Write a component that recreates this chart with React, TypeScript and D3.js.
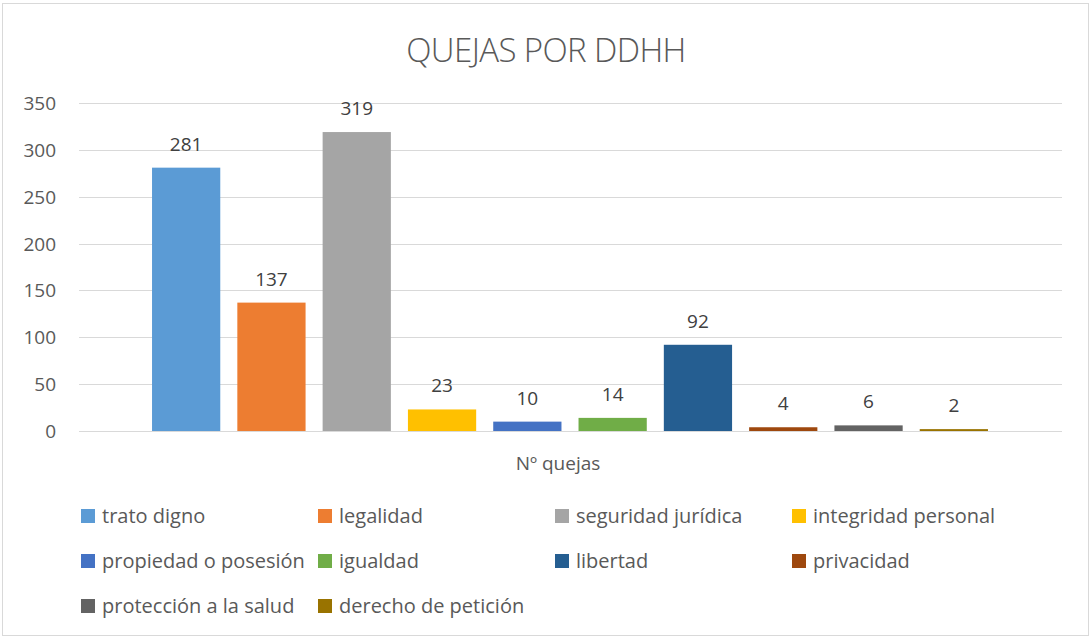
import React from "react";
import * as d3 from "d3";

const categories = [
  "trato digno",
  "legalidad",
  "seguridad jurídica",
  "integridad personal",
  "propiedad o posesión",
  "igualdad",
  "libertad",
  "privacidad",
  "protección a la salud",
  "derecho de petición",
];
const values = [281, 137, 319, 23, 10, 14, 92, 4, 6, 2];
const colors = [
  "#5B9BD5",
  "#ED7D31",
  "#A5A5A5",
  "#FFC000",
  "#4472C4",
  "#70AD47",
  "#255E91",
  "#9E480E",
  "#636363",
  "#997300",
];
const yTicks = [0, 50, 100, 150, 200, 250, 300, 350];
const title = "QUEJAS POR DDHH";
const axisTitle = "Nº quejas";

const W = 1091;
const H = 639;
const FONT = "'Open Sans', 'Noto Sans', sans-serif";

export default function App() {
  const y = d3.scaleLinear().domain([0, 350]).range([431, 103]);
  const x = d3
    .scaleBand<string>()
    .domain(categories)
    .range([143.5, 996.5])
    .paddingInner(0.2)
    .paddingOuter(0.1);
  const gridX0 = 79;
  const gridX1 = 1062;

  const legendCols = [81, 318, 555, 792];
  const legendRows = [516, 561, 606];

  return (
    <svg
      width={W}
      height={H}
      style={{ position: "absolute", left: 0, top: 0, background: "#fff" }}
      fontFamily={FONT}
    >
      <rect x={2.5} y={3.5} width={1086} height={632} fill="#fff" stroke="#D9D9D9" strokeWidth={1} />
      <text x={546} y={62} textAnchor="middle" fontSize={33} fill="#595959" fontWeight={300} letterSpacing={-0.6}>
        {title}
      </text>
      {yTicks.map((t) => (
        <g key={t}>
          <line x1={gridX0} x2={gridX1} y1={Math.round(y(t)) + 0.5} y2={Math.round(y(t)) + 0.5} stroke="#D9D9D9" strokeWidth={1} />
          <text x={56} y={y(t) + 7} textAnchor="end" fontSize={19} fill="#595959">
            {t}
          </text>
        </g>
      ))}
      {categories.map((c, i) => (
        <g key={c}>
          <rect x={x(c)} y={y(values[i])} width={x.bandwidth()} height={y(0) - y(values[i])} fill={colors[i]} />
          <text x={(x(c) as number) + x.bandwidth() / 2} y={y(values[i]) - 17} textAnchor="middle" fontSize={19} fill="#404040">
            {values[i]}
          </text>
        </g>
      ))}
      <text x={558} y={470} textAnchor="middle" fontSize={19} fill="#595959">
        {axisTitle}
      </text>
      {categories.map((c, i) => {
        const col = i % 4;
        const row = Math.floor(i / 4);
        const lx = legendCols[col];
        const ly = legendRows[row];
        return (
          <g key={"lg" + c}>
            <rect x={lx} y={ly - 7} width={14} height={14} fill={colors[i]} />
            <text x={lx + 21} y={ly + 7} fontSize={20} fill="#595959">
              {c}
            </text>
          </g>
        );
      })}
    </svg>
  );
}
